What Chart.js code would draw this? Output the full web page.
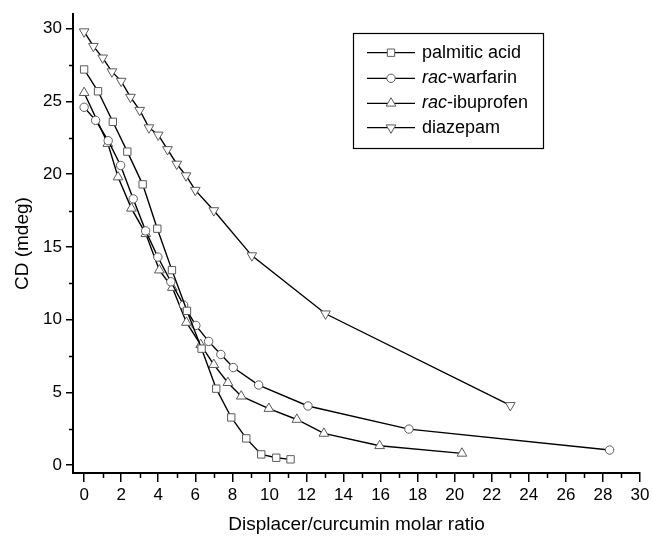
<!DOCTYPE html>
<html>
<head>
    <meta charset="utf-8">
    <title>CD vs displacer ratio</title>
    <style>
        body { margin: 0; background: #fff; }
    </style>
</head>
<body>
    <canvas id="grafico" width="653" height="542"></canvas>

    <script src="https://cdn.jsdelivr.net/npm/chart.js@4.4.1/dist/chart.umd.min.js"></script>
    <script>
    // valores
    var palmX = [0, 0.75, 1.55, 2.33, 3.16, 3.95, 4.74, 5.55, 6.34, 7.13, 7.94, 8.75, 9.56, 10.37, 11.14];
    var palmY = [27.2, 25.7, 23.6, 21.55, 19.3, 16.25, 13.4, 10.6, 8.0, 5.25, 3.27, 1.83, 0.73, 0.5, 0.39];

    var warfX = [0, 0.62, 1.3, 1.97, 2.65, 3.32, 3.98, 4.68, 5.37, 6.03, 6.72, 7.38, 8.05, 9.42, 12.08, 17.53, 28.36];
    var warfY = [24.6, 23.7, 22.3, 20.6, 18.3, 16.1, 14.3, 12.6, 11.0, 9.6, 8.5, 7.6, 6.7, 5.5, 4.06, 2.47, 1.03];

    var ibuX = [0, 1.28, 1.83, 2.55, 3.33, 4.06, 4.76, 5.52, 6.29, 7.0, 7.76, 8.48, 9.97, 11.48, 12.94, 15.95, 20.39];
    var ibuY = [25.6, 22.1, 19.8, 17.65, 15.9, 13.4, 12.2, 9.8, 8.27, 6.9, 5.66, 4.73, 3.88, 3.13, 2.17, 1.32, 0.8];

    var diazX = [0, 0.5, 1.0, 1.5, 2.0, 2.5, 3.0, 3.5, 4.0, 4.5, 5.0, 5.5, 6.0, 7.0, 9.05, 13.03, 23.0];
    var diazY = [29.8, 28.8, 28.0, 27.05, 26.4, 25.3, 24.4, 23.2, 22.7, 21.7, 20.7, 19.9, 18.9, 17.5, 14.4, 10.4, 4.1];

    var xTicks = [0, 2, 4, 6, 8, 10, 12, 14, 16, 18, 20, 22, 24, 26, 28, 30];
    var xMinor = [1, 3, 5, 7, 9, 11, 13, 15, 17, 19, 21, 23, 25, 27, 29];
    var yTicks = [0, 5, 10, 15, 20, 25, 30];
    var yMinor = [2.5, 7.5, 12.5, 17.5, 22.5, 27.5];

    var fonte = 'Arial, "Liberation Sans", sans-serif';
    var corMarca = '#5a5a5a';

    var pares = function(xs, ys){
        return xs.map(function(x, i){ return {x: x, y: ys[i]}; });
    }

    var serie = function(nome, xs, ys, estilo, raio, rot){
        return {
            label: nome,
            data: pares(xs, ys),
            showLine: true,
            borderColor: '#000',
            borderWidth: 1.4,
            pointStyle: estilo,
            pointRadius: raio,
            pointRotation: rot,
            pointBackgroundColor: '#fff',
            pointBorderColor: corMarca,
            pointBorderWidth: 1,
            pointHoverRadius: raio
        };
    }

    var datasets = [
        serie('palmitic acid', palmX, palmY, 'rect', 5.2, 0),
        serie('rac-warfarin', warfX, warfY, 'circle', 4.2, 0),
        serie('rac-ibuprofen', ibuX, ibuY, 'triangle', 5.6, 0),
        serie('diazepam', diazX, diazY, 'triangle', 5.6, 180)
    ];

    // marcas pequenas dos eixos + legenda feita a mao
    var extras = {
        id: 'extras',
        afterDraw: function(chart){
            var ctx = chart.ctx;
            var sx = chart.scales.x, sy = chart.scales.y;
            var a = chart.chartArea;
            ctx.save();
            ctx.strokeStyle = '#000';
            ctx.lineWidth = 1.5;
            ctx.beginPath();
            xMinor.forEach(function(v){
                var px = Math.round(sx.getPixelForValue(v)) + 0.5;
                ctx.moveTo(px, a.bottom);
                ctx.lineTo(px, a.bottom + 5);
            });
            yMinor.forEach(function(v){
                var py = Math.round(sy.getPixelForValue(v)) + 0.5;
                ctx.moveTo(a.left, py);
                ctx.lineTo(a.left - 4, py);
            });
            ctx.stroke();

            // legenda
            ctx.lineWidth = 1.2;
            ctx.strokeRect(353.5, 33.5, 190, 115);
            var linhas = [52.7, 78.3, 103.3, 127.7];
            var nomes = [['', 'palmitic acid'], ['rac', '-warfarin'], ['rac', '-ibuprofen'], ['', 'diazepam']];
            ctx.textBaseline = 'middle';
            datasets.forEach(function(ds, i){
                var y = linhas[i];
                ctx.strokeStyle = '#000';
                ctx.lineWidth = 1.2;
                ctx.beginPath();
                ctx.moveTo(367, y);
                ctx.lineTo(415, y);
                ctx.stroke();
                ctx.fillStyle = '#fff';
                ctx.strokeStyle = corMarca;
                ctx.lineWidth = 1;
                Chart.helpers.drawPoint(ctx, {
                    pointStyle: ds.pointStyle,
                    radius: ds.pointRadius,
                    rotation: ds.pointRotation,
                    borderWidth: 1
                }, 391, y);
                ctx.fillStyle = '#000';
                var x = 422;
                if (nomes[i][0]) {
                    ctx.font = 'italic 18px ' + fonte;
                    ctx.fillText(nomes[i][0], x, y);
                    x += ctx.measureText(nomes[i][0]).width;
                }
                ctx.font = '18px ' + fonte;
                ctx.fillText(nomes[i][1], x, y);
            });
            ctx.restore();
        }
    };

    var ctx = document.getElementById('grafico');

    var chartGraph = new Chart(ctx, {
        type: 'scatter',
        data: { datasets: datasets },
        options: {
            responsive: false,
            animation: false,
            events: [],
            layout: { padding: { left: 0, top: 12, right: 13, bottom: 0 } },
            plugins: {
                legend: { display: false },
                tooltip: { enabled: false }
            },
            elements: { line: { tension: 0 } },
            scales: {
                x: {
                    type: 'linear',
                    min: -0.6,
                    max: 30,
                    afterBuildTicks: function(s){ s.ticks = xTicks.map(function(v){ return {value: v}; }); },
                    afterFit: function(s){ s.height = 69; },
                    grid: { display: true, drawOnChartArea: false, drawTicks: true, tickLength: 9, color: '#000', lineWidth: 1.5 },
                    border: { display: true, color: '#000', width: 2 },
                    ticks: { color: '#000', padding: 3, maxRotation: 0, autoSkip: false, font: { family: fonte, size: 17 } },
                    title: { display: true, text: 'Displacer/curcumin molar ratio', color: '#000', padding: { top: 4, bottom: 6 }, font: { family: fonte, size: 19 } }
                },
                y: {
                    type: 'linear',
                    min: -0.55,
                    max: 31,
                    afterBuildTicks: function(s){ s.ticks = yTicks.map(function(v){ return {value: v}; }); },
                    afterFit: function(s){ s.width = 73; },
                    grid: { display: true, drawOnChartArea: false, drawTicks: true, tickLength: 7, color: '#000', lineWidth: 1.5 },
                    border: { display: true, color: '#000', width: 2 },
                    ticks: { color: '#000', padding: 4, autoSkip: false, font: { family: fonte, size: 17 } },
                    title: { display: true, text: 'CD (mdeg)', color: '#000', padding: { top: 11, bottom: 0 }, font: { family: fonte, size: 19 } }
                }
            }
        },
        plugins: [extras]
    });
    </script>
</body>
</html>
